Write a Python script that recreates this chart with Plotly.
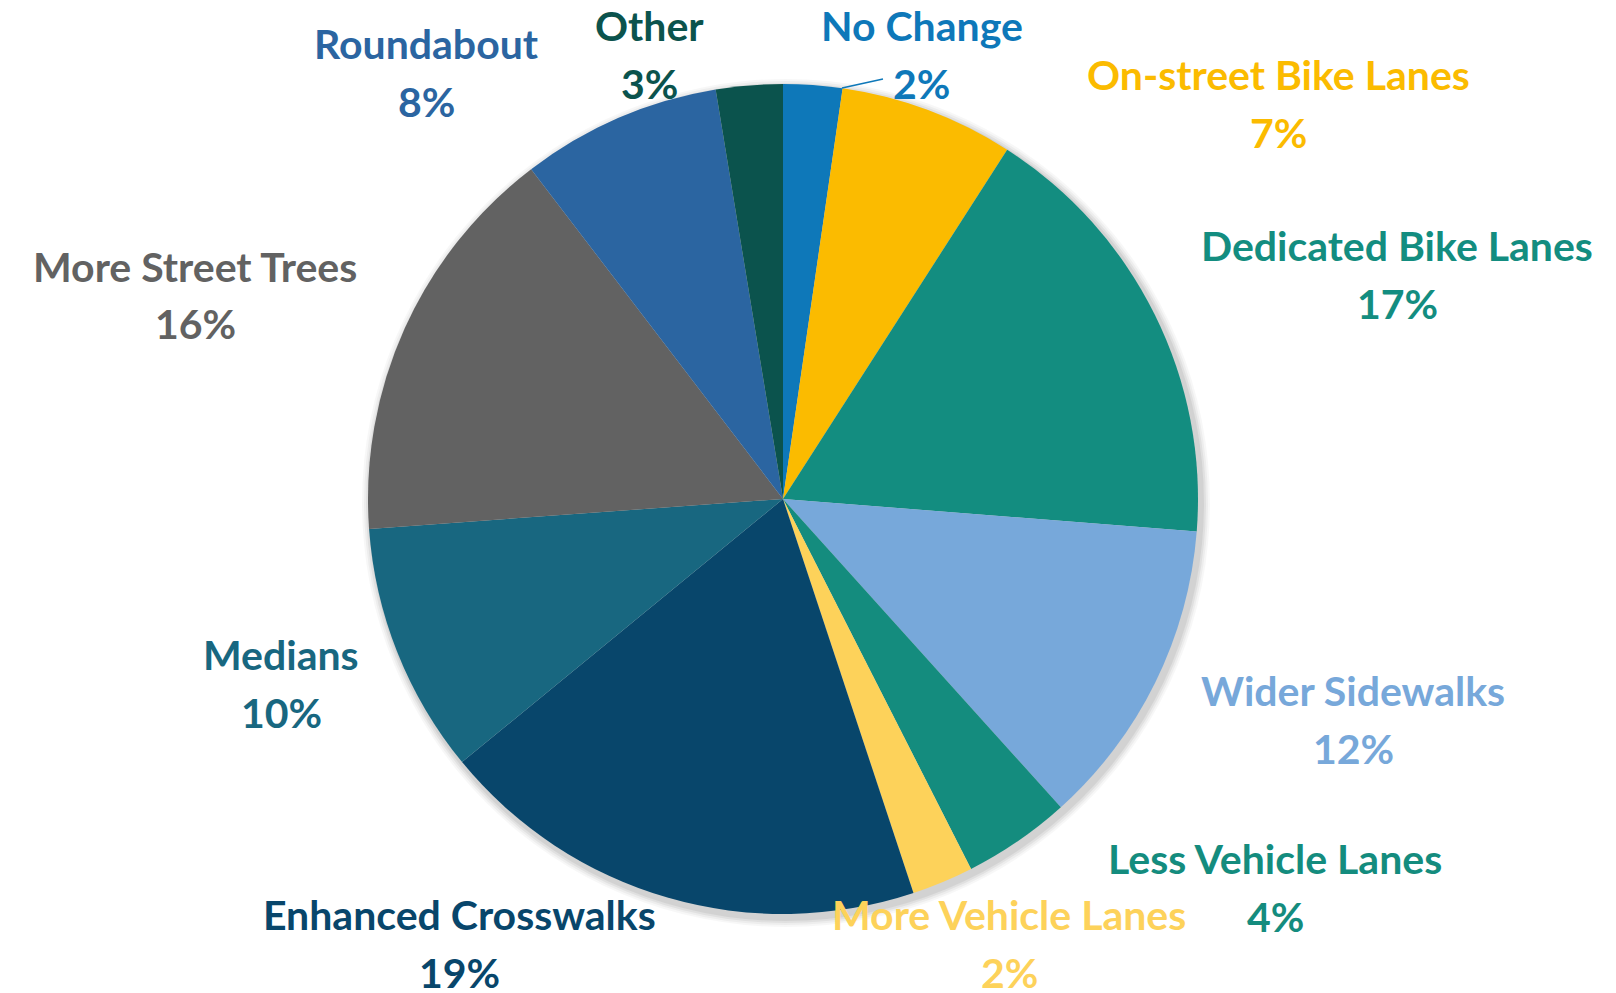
import plotly.graph_objects as go

# ---- data ----
categories = ["No Change", "On-street Bike Lanes", "Dedicated Bike Lanes", "Wider Sidewalks",
              "Less Vehicle Lanes", "More Vehicle Lanes", "Enhanced Crosswalks", "Medians",
              "More Street Trees", "Roundabout", "Other"]
shares = [2.3, 6.8, 17.2, 12.1, 4.2, 2.4, 19.2, 9.8, 15.8, 7.8, 2.6]
pct_labels = ["2%", "7%", "17%", "12%", "4%", "2%", "19%", "10%", "16%", "8%", "3%"]
colors = ["#0E78B9", "#FBBB00", "#138D80", "#77A8DA", "#148C7E", "#FDD25A",
          "#08466B", "#186780", "#626262", "#2B65A1", "#0B534D"]

W, H = 1616, 993
OFF = 8  # page body margin compensation
cx, cy, R = 783 - OFF, 499 - OFF, 415


def px(x):
    return (x - OFF) / W


def py(y):
    return 1 - (y - OFF) / H


fig = go.Figure()

# soft shadow behind the pie
for grow, op in [(9, 0.03), (7, 0.04), (5, 0.05), (3, 0.06)]:
    r = R + grow
    ox, oy = 3, 4
    fig.add_shape(type="circle", xref="paper", yref="paper", layer="below",
                  x0=(cx + ox - r) / W, x1=(cx + ox + r) / W,
                  y0=(H - (cy + oy) - r) / H, y1=(H - (cy + oy) + r) / H,
                  fillcolor=f"rgba(0,0,0,{op})", line=dict(width=0))

fig.add_trace(go.Pie(
    labels=categories, values=shares, sort=False, direction="clockwise", rotation=0,
    marker=dict(colors=colors, line=dict(width=0)),
    textinfo="none", hoverinfo="label+percent", showlegend=False,
    domain=dict(x=[(cx - R) / W, (cx + R) / W], y=[(H - cy - R) / H, (H - cy + R) / H]),
))

# label placement (pixel centres of the first text line, in window pixels)
label_pos = {
    "No Change": (922, 26),
    "On-street Bike Lanes": (1278, 74),
    "Dedicated Bike Lanes": (1397, 245),
    "Wider Sidewalks": (1353, 690),
    "Less Vehicle Lanes": (1275, 858),
    "More Vehicle Lanes": (1009, 914),
    "Enhanced Crosswalks": (459, 914),
    "Medians": (281, 654),
    "More Street Trees": (195, 266),
    "Roundabout": (426, 43),
    "Other": (649, 26),
}
line_gap = 58
for cat, pct, col in zip(categories, pct_labels, colors):
    x, y = label_pos[cat]
    for txt, yy in [(cat, y), (pct, y + line_gap)]:
        fig.add_annotation(x=px(x), y=py(yy), xref="paper", yref="paper",
                           text=txt, showarrow=False, xanchor="center", yanchor="middle",
                           font=dict(family="Lato", size=41, color=col, weight="bold"))

# leader line for "No Change"
fig.add_shape(type="line", xref="paper", yref="paper",
              x0=px(842), y0=py(88), x1=px(883), y1=py(79),
              line=dict(color=colors[0], width=1.5))

fig.update_layout(width=W, height=H, margin=dict(l=0, r=0, t=0, b=0),
                  paper_bgcolor="white", plot_bgcolor="white")
fig.write_html("out.html")
